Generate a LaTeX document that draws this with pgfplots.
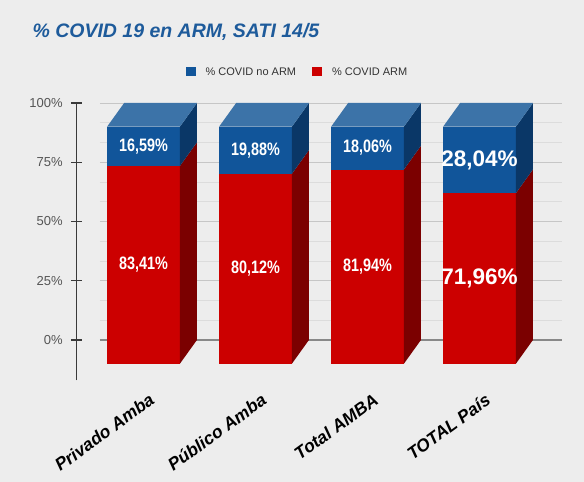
\documentclass[border=0pt]{standalone}
\usepackage{pgfplots}
\pgfplotsset{compat=1.18}
\usepackage{fontspec}
\setmainfont{Liberation Sans}
\newfontfamily\condfont[FakeStretch=0.8]{Liberation Sans}
\definecolor{bg}{HTML}{EDEDED}
\definecolor{titleBlue}{HTML}{1E5B9B}
\definecolor{blueFront}{HTML}{11559A}
\definecolor{blueTop}{HTML}{3C73A8}
\definecolor{blueSide}{HTML}{0A3767}
\definecolor{redFront}{HTML}{CC0000}
\definecolor{redSide}{HTML}{7B0000}
\definecolor{gridMajor}{HTML}{C6C6C6}
\definecolor{gridMinor}{HTML}{DCDCDC}
\definecolor{zeroLine}{HTML}{888888}
\definecolor{axisCol}{HTML}{3A3A3A}
\definecolor{tickText}{HTML}{555555}
\definecolor{legText}{HTML}{333333}

\begin{document}
\begin{tikzpicture}
\fill[bg] (0,0) rectangle (584pt,482pt);
\useasboundingbox (0,0) rectangle (584pt,482pt);

\node[anchor=base west, text=titleBlue, font=\fontsize{19.5}{22}\selectfont\bfseries\itshape]
  at (29pt,444pt) {\% COVID 19 en ARM, SATI 14/5};

\begin{axis}[
  at={(76.3pt,101.7pt)}, anchor=south west,
  scale only axis, width=487.2pt, height=277.3pt,
  xmin=-0.6, xmax=3.75, ymin=-17, ymax=100,
  axis lines*=left,
  x axis line style={draw=none},
  y axis line style={draw=axisCol, line width=1.1pt},
  ytick={0,25,50,75,100},
  yticklabels={0\%,25\%,50\%,75\%,100\%},
  ytick style={draw=axisCol, line width=1.1pt},
  tick align=center,
  major tick length=11pt,
  yticklabel style={font=\fontsize{13}{15}\selectfont, text=tickText, anchor=east, inner sep=0pt, xshift=-8pt},
  xtick={0,1,2,3},
  xticklabels={Privado Amba,Público Amba,Total AMBA,TOTAL País},
  xtick style={draw=none},
  xticklabel style={rotate=36, anchor=north east, inner sep=0pt, yshift=-8pt,
    font=\fontsize{17.5}{20}\selectfont\bfseries\itshape},
  legend style={at={(0.454,1.112)}, anchor=center, draw=none, fill=none,
    legend columns=2, font=\fontsize{11}{13}\selectfont, text=legText,
    /tikz/every odd column/.append style={column sep=8pt},
    /tikz/every even column/.append style={column sep=14pt}},
  legend image code/.code={\fill[#1] (0pt,-4.5pt) rectangle (10pt,4.5pt);},
]
% grid on the back wall
\addplot[gridMinor, line width=0.8pt, forget plot] coordinates {(-0.39,8.333)(3.74,8.333)};
\addplot[gridMinor, line width=0.8pt, forget plot] coordinates {(-0.39,16.667)(3.74,16.667)};
\addplot[gridMinor, line width=0.8pt, forget plot] coordinates {(-0.39,33.333)(3.74,33.333)};
\addplot[gridMinor, line width=0.8pt, forget plot] coordinates {(-0.39,41.667)(3.74,41.667)};
\addplot[gridMinor, line width=0.8pt, forget plot] coordinates {(-0.39,58.333)(3.74,58.333)};
\addplot[gridMinor, line width=0.8pt, forget plot] coordinates {(-0.39,66.667)(3.74,66.667)};
\addplot[gridMinor, line width=0.8pt, forget plot] coordinates {(-0.39,83.333)(3.74,83.333)};
\addplot[gridMinor, line width=0.8pt, forget plot] coordinates {(-0.39,91.667)(3.74,91.667)};
\addplot[gridMajor, line width=0.9pt, forget plot] coordinates {(-0.39,25)(3.74,25)};
\addplot[gridMajor, line width=0.9pt, forget plot] coordinates {(-0.39,50)(3.74,50)};
\addplot[gridMajor, line width=0.9pt, forget plot] coordinates {(-0.39,75)(3.74,75)};
\addplot[gridMajor, line width=0.9pt, forget plot] coordinates {(-0.39,100)(3.74,100)};
\addplot[zeroLine, line width=1.1pt, forget plot] coordinates {(-0.39,0)(3.74,0)};

% Privado Amba: ARM 83.41, no ARM 16.59
\addplot[fill=redFront, draw=none, forget plot] coordinates {(-0.325,-10)(0.325,-10)(0.325,73.41)(-0.325,73.41)} -- cycle;
\addplot[fill=redSide, draw=none, forget plot] coordinates {(0.325,-10)(0.477,0)(0.477,83.41)(0.325,73.41)} -- cycle;
\addplot[fill=blueFront, draw=none, forget plot] coordinates {(-0.325,73.41)(0.325,73.41)(0.325,90)(-0.325,90)} -- cycle;
\addplot[fill=blueSide, draw=none, forget plot] coordinates {(0.325,73.41)(0.477,83.41)(0.477,100)(0.325,90)} -- cycle;
\addplot[fill=blueTop, draw=none, forget plot] coordinates {(-0.325,90)(0.325,90)(0.477,100)(-0.173,100)} -- cycle;

% Publico Amba: 80.12 / 19.88
\addplot[fill=redFront, draw=none, forget plot] coordinates {(0.675,-10)(1.325,-10)(1.325,70.12)(0.675,70.12)} -- cycle;
\addplot[fill=redSide, draw=none, forget plot] coordinates {(1.325,-10)(1.477,0)(1.477,80.12)(1.325,70.12)} -- cycle;
\addplot[fill=blueFront, draw=none, forget plot] coordinates {(0.675,70.12)(1.325,70.12)(1.325,90)(0.675,90)} -- cycle;
\addplot[fill=blueSide, draw=none, forget plot] coordinates {(1.325,70.12)(1.477,80.12)(1.477,100)(1.325,90)} -- cycle;
\addplot[fill=blueTop, draw=none, forget plot] coordinates {(0.675,90)(1.325,90)(1.477,100)(0.827,100)} -- cycle;

% Total AMBA: 81.94 / 18.06
\addplot[fill=redFront, draw=none, forget plot] coordinates {(1.675,-10)(2.325,-10)(2.325,71.94)(1.675,71.94)} -- cycle;
\addplot[fill=redSide, draw=none, forget plot] coordinates {(2.325,-10)(2.477,0)(2.477,81.94)(2.325,71.94)} -- cycle;
\addplot[fill=blueFront, draw=none, forget plot] coordinates {(1.675,71.94)(2.325,71.94)(2.325,90)(1.675,90)} -- cycle;
\addplot[fill=blueSide, draw=none, forget plot] coordinates {(2.325,71.94)(2.477,81.94)(2.477,100)(2.325,90)} -- cycle;
\addplot[fill=blueTop, draw=none, forget plot] coordinates {(1.675,90)(2.325,90)(2.477,100)(1.827,100)} -- cycle;

% TOTAL Pais: 71.96 / 28.04
\addplot[fill=redFront, draw=none, forget plot] coordinates {(2.675,-10)(3.325,-10)(3.325,61.96)(2.675,61.96)} -- cycle;
\addplot[fill=redSide, draw=none, forget plot] coordinates {(3.325,-10)(3.477,0)(3.477,71.96)(3.325,61.96)} -- cycle;
\addplot[fill=blueFront, draw=none, forget plot] coordinates {(2.675,61.96)(3.325,61.96)(3.325,90)(2.675,90)} -- cycle;
\addplot[fill=blueSide, draw=none, forget plot] coordinates {(3.325,61.96)(3.477,71.96)(3.477,100)(3.325,90)} -- cycle;
\addplot[fill=blueTop, draw=none, forget plot] coordinates {(2.675,90)(3.325,90)(3.477,100)(2.827,100)} -- cycle;

\addlegendimage{fill=blueFront, draw=none}
\addlegendentry{\% COVID no ARM}
\addlegendimage{fill=redFront, draw=none}
\addlegendentry{\% COVID ARM}

% value labels, centred on each front segment
\begin{scope}[every node/.style={text=white, font=\condfont\bfseries\fontsize{18}{20}\selectfont}]
\node at (axis cs:0,31.7) {83,41\%};
\node at (axis cs:0,81.7) {16,59\%};
\node at (axis cs:1,30.06) {80,12\%};
\node at (axis cs:1,80.06) {19,88\%};
\node at (axis cs:2,30.97) {81,94\%};
\node at (axis cs:2,80.97) {18,06\%};
\end{scope}
\node[text=white, font=\bfseries\fontsize{22.5}{25}\selectfont] at (axis cs:3,25.98) {71,96\%};
\node[text=white, font=\bfseries\fontsize{22.5}{25}\selectfont] at (axis cs:3,75.98) {28,04\%};
\end{axis}
\end{tikzpicture}
\end{document}
